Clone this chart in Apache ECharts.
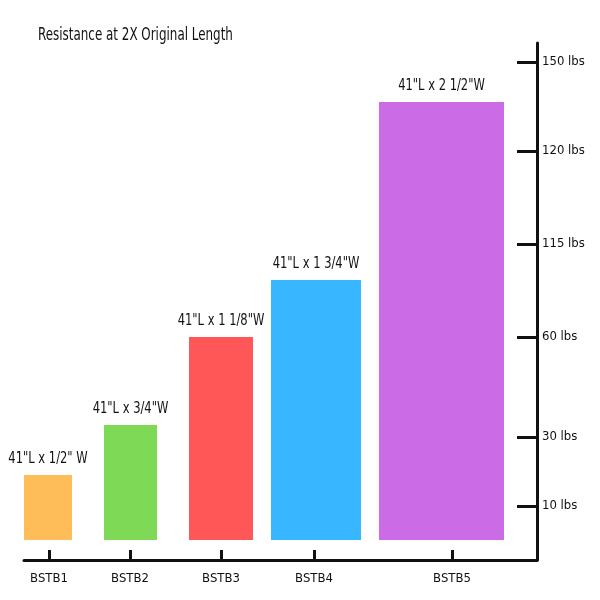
<!DOCTYPE html>
<html>
<head>
<meta charset="utf-8">
<script src="https://cdn.jsdelivr.net/npm/echarts@6/dist/echarts.min.js"></script>
<style>
    html, body { margin: 0; padding: 0; background: #fff; }
    #chart { width: 600px; height: 600px; }
</style>
</head>
<body>
<div id="chart"></div>
<script>
var categories = ['BSTB1', 'BSTB2', 'BSTB3', 'BSTB4', 'BSTB5'];
var sizeLabels = ['41"L x 1/2" W', '41"L x 3/4"W', '41"L x 1 1/8"W', '41"L x 1 3/4"W', '41"L x 2 1/2"W'];
var barHeights = [65, 115, 203, 260, 438];
var barLeft = [0, 80, 165, 247, 355];
var barRight = [48, 133, 229, 337, 480];
var categoryPos = [25, 106, 197, 290, 428];
var yTickPos = [34, 103, 203, 296, 389, 478];
var yTickLabels = ['10 lbs', '30 lbs', '60 lbs', '115 lbs', '120 lbs', '150 lbs'];
var barColors = ['#FFBD59', '#7ED957', '#FF5757', '#38B6FF', '#CB6CE6'];

var font = '"Liberation Sans Narrow", "DejaVu Sans Condensed", sans-serif';
var ink = '#111';

var barData = [];
for (var i = 0; i < categories.length; i++) {
    barData.push([barLeft[i], barRight[i], barHeights[i], i]);
}

var chart = echarts.init(document.getElementById('chart'));
chart.setOption({
    animation: false,
    // condensed title, squeezed a bit to match the narrow face of the original
    graphic: [
        {
            type: 'text',
            left: 38,
            top: 27,
            scaleX: 0.78,
            style: {
                text: 'Resistance at 2X Original Length',
                fill: ink,
                font: '17px ' + font
            }
        }
    ],
    grid: {left: 24, right: 63, top: 43, bottom: 40},
    xAxis: {
        type: 'value',
        min: 0,
        max: 513,
        splitLine: {show: false},
        axisLine: {onZero: false, lineStyle: {color: ink, width: 3}},
        axisTick: {
            inside: true,
            length: 10,
            customValues: categoryPos,
            lineStyle: {color: ink, width: 3}
        },
        axisLabel: {
            customValues: categoryPos,
            margin: 12,
            fontFamily: font,
            fontSize: 13,
            color: ink,
            formatter: function (v) {
                return categories[categoryPos.indexOf(v)];
            }
        }
    },
    yAxis: {
        type: 'value',
        position: 'right',
        min: -20,
        max: 497,
        splitLine: {show: false},
        axisLine: {show: true, onZero: false, lineStyle: {color: ink, width: 3}},
        axisTick: {
            show: true,
            inside: true,
            length: 20,
            customValues: yTickPos,
            lineStyle: {color: ink, width: 3}
        },
        axisLabel: {
            customValues: yTickPos,
            margin: 5,
            fontFamily: font,
            fontSize: 13,
            color: ink,
            formatter: function (v) {
                return yTickLabels[yTickPos.indexOf(v)];
            }
        }
    },
    series: [
        {
            type: 'custom',
            data: barData,
            renderItem: function (params, api) {
                var topLeft = api.coord([api.value(0), api.value(2)]);
                var bottomRight = api.coord([api.value(1), 0]);
                var idx = api.value(3);
                return {
                    type: 'group',
                    children: [
                        {
                            type: 'rect',
                            shape: {
                                x: topLeft[0],
                                y: topLeft[1],
                                width: bottomRight[0] - topLeft[0],
                                height: bottomRight[1] - topLeft[1]
                            },
                            style: {fill: barColors[idx]}
                        },
                        {
                            type: 'text',
                            x: (topLeft[0] + bottomRight[0]) / 2,
                            y: topLeft[1] - 16,
                            scaleX: 0.8,
                            style: {
                                text: sizeLabels[idx],
                                fill: ink,
                                font: '16px ' + font,
                                align: 'center',
                                verticalAlign: 'middle'
                            }
                        }
                    ]
                };
            }
        }
    ]
});
</script>
</body>
</html>
